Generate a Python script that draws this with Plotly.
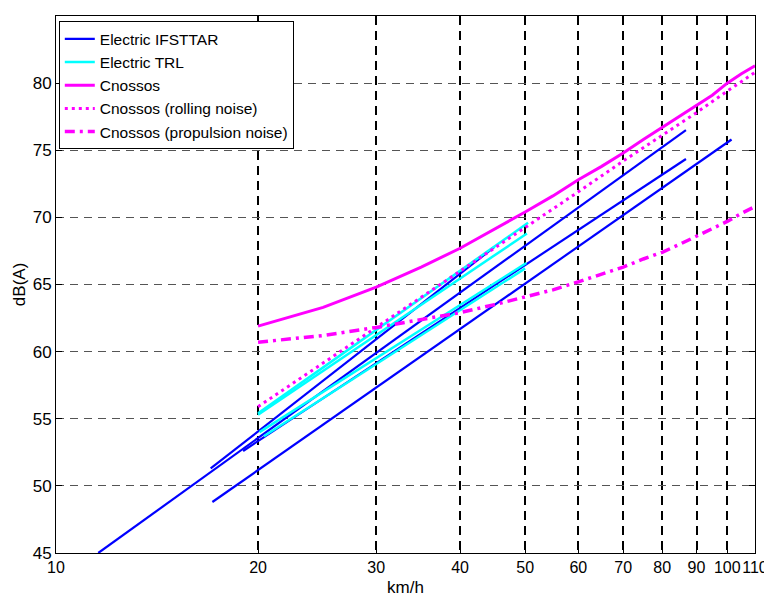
import math
import plotly.graph_objects as go

# ---- data ----
x_ticks = [10, 20, 30, 40, 50, 60, 70, 80, 90, 100, 110]
y_ticks = [45, 50, 55, 60, 65, 70, 75, 80, 85]

# Electric IFSTTAR regression lines (start/end speed, start/end level)
ifsttar_speeds = [[11.56, 86.8], [17.0, 45.0], [17.1, 101.5], [19.0, 86.8]]
ifsttar_levels = [[45.0, 76.5], [51.3, 67.8], [48.8, 75.8], [52.6, 74.35]]

# Electric TRL regression lines
trl_speeds = [[20.0, 50.5], [20.0, 50.3], [20.1, 50.2], [20.4, 50.0]]
trl_levels = [[55.4, 69.6], [55.3, 68.8], [54.0, 66.6], [53.7, 66.2]]

# Cnossos total
cn_speeds = [20, 25, 30, 35, 40, 45, 50, 55, 60, 65, 70, 75, 80, 85, 90, 95, 100, 105, 110]
cn_total = [61.9, 63.3, 64.8, 66.3, 67.7, 69.1, 70.4, 71.6, 72.8, 73.8, 74.8, 75.8,
            76.7, 77.5, 78.3, 79.1, 80.0, 80.7, 81.3]
cn_propulsion = [60.7, 61.2, 61.8, 62.4, 62.9, 63.5, 64.1, 64.6, 65.2, 65.8, 66.3, 66.9,
                 67.4, 68.0, 68.6, 69.1, 69.7, 70.3, 70.8]
rolling_speeds = [20, 30, 40, 50, 60, 70, 80, 90, 100, 110]
cn_rolling = [55.9, 61.8, 66.0, 69.3, 71.9, 74.2, 76.1, 77.8, 79.4, 80.8]

BLUE = "#0000FF"
CYAN = "#00FFFF"
MAG = "#FF00FF"
FONT = "Liberation Sans, Arial, sans-serif"

fig = go.Figure()

for i, (xs, ys) in enumerate(zip(ifsttar_speeds, ifsttar_levels)):
    fig.add_trace(go.Scatter(x=xs, y=ys, mode="lines", name="Electric IFSTTAR",
                             legendgroup="ifsttar", showlegend=(i == 0),
                             line=dict(color=BLUE, width=2.2)))

for i, (xs, ys) in enumerate(zip(trl_speeds, trl_levels)):
    fig.add_trace(go.Scatter(x=xs, y=ys, mode="lines", name="Electric TRL",
                             legendgroup="trl", showlegend=(i == 0),
                             line=dict(color=CYAN, width=2.5)))

fig.add_trace(go.Scatter(x=cn_speeds, y=cn_total, mode="lines", name="Cnossos",
                         line=dict(color=MAG, width=3)))
fig.add_trace(go.Scatter(x=rolling_speeds, y=cn_rolling, mode="lines",
                         name="Cnossos (rolling noise)",
                         line=dict(color=MAG, width=3, dash="3px,4px")))
fig.add_trace(go.Scatter(x=cn_speeds, y=cn_propulsion, mode="lines",
                         name="Cnossos (propulsion noise)",
                         line=dict(color=MAG, width=3.5, dash="10px,5px,3px,5px")))

fig.update_layout(
    width=764, height=588,
    margin=dict(l=48, r=17, t=8, b=43),
    paper_bgcolor="white", plot_bgcolor="white",
    font=dict(family=FONT, size=17, color="black"),
    showlegend=True,
    legend=dict(x=0.004, y=0.99, xanchor="left", yanchor="top",
                bgcolor="white", bordercolor="black", borderwidth=1,
                font=dict(size=15.5), tracegroupgap=0, itemwidth=30),
    xaxis=dict(type="log", range=[1, math.log10(110)], tickvals=x_ticks,
               ticktext=[str(v) for v in x_ticks], tickangle=0, automargin=False,
               tickfont=dict(size=16),
               showline=True, linecolor="black", linewidth=1, mirror="ticks",
               ticks="inside", ticklen=6, tickcolor="black",
               showgrid=True, gridcolor="black", gridwidth=2, griddash="9px,6px",
               zeroline=False),
    yaxis=dict(range=[45, 85], tickvals=y_ticks, automargin=False,
               tickfont=dict(size=17),
               showline=True, linecolor="black", linewidth=1, mirror="ticks",
               ticks="inside", ticklen=6, tickcolor="black",
               showgrid=True, gridcolor="#555555", gridwidth=1.2, griddash="8px,6px",
               zeroline=False),
    annotations=[
        dict(text="km/h", xref="paper", yref="paper", x=0.5, y=-0.064,
             xanchor="center", yanchor="middle", showarrow=False,
             font=dict(size=17)),
        dict(text="dB(A)", xref="paper", yref="paper", x=-0.052, y=0.5,
             xanchor="center", yanchor="middle", showarrow=False, textangle=-90,
             font=dict(size=17)),
    ],
)

fig.write_html("out.html")
